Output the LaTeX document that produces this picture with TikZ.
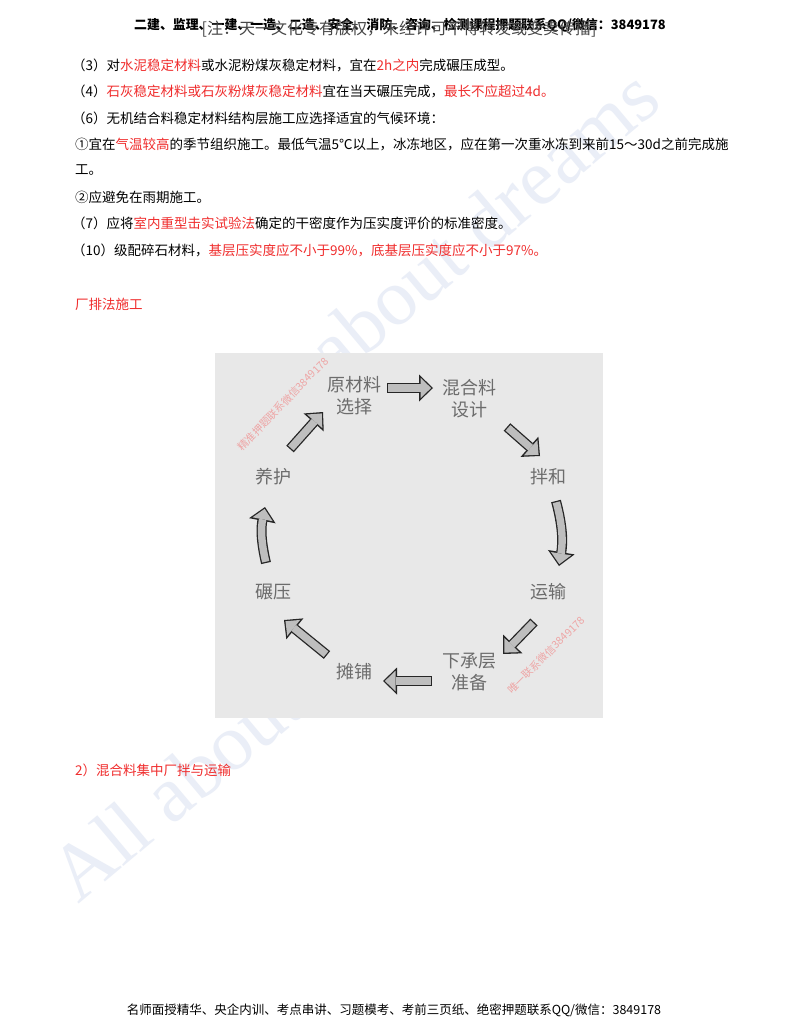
\documentclass[tikz,border=0pt]{standalone}
\usepackage{fontspec}
\setmainfont{Noto Sans CJK SC}
\newfontfamily\wmfont{Liberation Serif}
\usetikzlibrary{arrows.meta}
\definecolor{hl}{RGB}{240,45,45}
\definecolor{boxgray}{RGB}{232,232,232}
\definecolor{labgray}{RGB}{108,108,108}
\definecolor{arrfill}{RGB}{190,190,190}
\definecolor{arrline}{RGB}{38,38,38}
\definecolor{wmblue}{RGB}{234,238,247}
\definecolor{wmred}{RGB}{238,165,165}
\newcommand\rd[1]{\textcolor{hl}{#1}}
\newcommand\fatarrow[1]{\draw[fatout] #1; \draw[fatin] #1;}
\tikzset{
  body/.style={anchor=west, inner sep=0pt, font=\fontsize{13.5}{16}\selectfont, text=black},
  lab/.style={inner sep=0pt, align=center, text=labgray, font=\fontsize{18}{22}\selectfont},
  wmbig/.style={anchor=base west, inner sep=0pt, text=wmblue, font=\wmfont\fontsize{80}{80}\selectfont},
  wmsmall/.style={inner sep=0pt, text=wmred, font=\fontsize{10.5}{12}\selectfont},
  fatout/.style={draw=arrline, line width=10pt, -{Triangle[length=14pt,width=27pt,line width=0pt]}},
  fatin/.style={draw=arrfill, line width=7.4pt, -{Triangle[length=10.6pt,width=20.5pt,line width=0pt]}, shorten >=1.9pt, shorten <=1.3pt},
}
\begin{document}
\begin{tikzpicture}[x=1pt,y=-1pt]
\useasboundingbox (0,0) rectangle (800,1035);
\fill[white] (0,0) rectangle (800,1035);

% faint background watermark
\node[wmbig, rotate=40] (wmA) at (78,905) {All about dreams};
\node[wmbig, rotate=40] (wmB) at (242,460) {All about dreams};

% header (two overlapping texts)
\node[inner sep=0pt, font=\bfseries\fontsize{12.9}{14}\selectfont] (hdr) at (400,25) {二建、监理、一建、一造、二造、安全、消防、咨询、检测课程押题联系QQ/微信：3849178};
\node[inner sep=0pt, text=black!72, font=\fontsize{16}{18}\selectfont] (note) at (399,29) {[注：天一文化专有版权，未经许可不得转发或变卖传播]};

% body lines
\node[body] (l3) at (72,65) {（3）对\rd{水泥稳定材料}或水泥粉煤灰稳定材料，宜在\rd{2h之内}完成碾压成型。};
\node[body] (l4) at (72,91) {（4）\rd{石灰稳定材料或石灰粉煤灰稳定材料}宜在当天碾压完成，\rd{最长不应超过4d。}};
\node[body] (l6) at (72,118) {（6）无机结合料稳定材料结构层施工应选择适宜的气候环境：};
\node[body] (c1) at (75,144) {①宜在\rd{气温较高}的季节组织施工。最低气温5℃以上，冰冻地区，应在第一次重冰冻到来前15～30d之前完成施};
\node[body] (c1b) at (75,170) {工。};
\node[body] (c2) at (75,197) {②应避免在雨期施工。};
\node[body] (l7) at (72,223) {（7）应将\rd{室内重型击实试验法}确定的干密度作为压实度评价的标准密度。};
\node[body] (l10) at (72,250) {（10）级配碎石材料，\rd{基层压实度应不小于99\%，底基层压实度应不小于97\%。}};

\node[body, text=hl] (h1) at (75,304) {厂排法施工};

% diagram panel
\node[fill=boxgray, inner sep=0pt, minimum width=388pt, minimum height=365pt, anchor=north west] (panel) at (215,353) {};

% small red watermarks in panel
\node[wmsmall, rotate=46] (wm1) at (283,404) {精准押题联系微信3849178};
\node[wmsmall, rotate=45] (wm2) at (546,655) {唯一联系微信3849178};

% labels
\node[lab] (yuan) at (354,396) {原材料\\选择};
\node[lab] (hun)  at (469,399) {混合料\\设计};
\node[lab] (ban)  at (548,477) {拌和};
\node[lab] (yun)  at (548,592) {运输};
\node[lab] (xia)  at (469,672) {下承层\\准备};
\node[lab] (tan)  at (354,672) {摊铺};
\node[lab] (nian) at (273,592) {碾压};
\node[lab] (yang) at (273,477) {养护};

% arrow end points
\coordinate (a1s) at (387,388); \coordinate (a1e) at (433,388);
\coordinate (a2s) at (507,427); \coordinate (a2e) at (540,456);
\coordinate (a3s) at (556,501); \coordinate (a3e) at (559,566);
\coordinate (a4s) at (534,622); \coordinate (a4e) at (503,654);
\coordinate (a5s) at (432,681); \coordinate (a5e) at (383,681);
\coordinate (a6s) at (327,655); \coordinate (a6e) at (284,620);
\coordinate (a7s) at (266,563); \coordinate (a7e) at (265,507);
\coordinate (a8s) at (290,449); \coordinate (a8e) at (323,412);

\fatarrow{(a1s) -- (a1e)}
\fatarrow{(a2s) -- (a2e)}
\fatarrow{(a3s) to[bend left=12] (a3e)}
\fatarrow{(a4s) -- (a4e)}
\fatarrow{(a5s) -- (a5e)}
\fatarrow{(a6s) -- (a6e)}
\fatarrow{(a7s) to[bend left=12] (a7e)}
\fatarrow{(a8s) -- (a8e)}

\node[body, text=hl] (h2) at (75,770) {2）混合料集中厂拌与运输};

% footer
\node[inner sep=0pt, font=\fontsize{12.5}{14}\selectfont] (ftr) at (394,1010) {名师面授精华、央企内训、考点串讲、习题模考、考前三页纸、绝密押题联系QQ/微信：3849178};
\end{tikzpicture}
\end{document}
